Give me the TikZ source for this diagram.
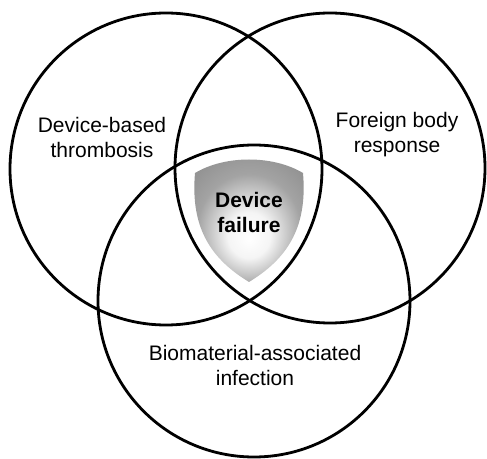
\documentclass[tikz,border=0pt]{standalone}
\usepackage{fontspec}
\setmainfont{Liberation Sans}
\pgfdeclareradialshading{shieldshade}{\pgfpoint{0bp}{-8bp}}{%
  color(0bp)=(white); color(9bp)=(white!96!black); color(22bp)=(black!36); color(30bp)=(black!42); color(50bp)=(black!42)}
\tikzset{
  ring/.style={draw=black, line width=2.8pt},
  lbl/.style={align=center, inner sep=0pt, font=\fontsize{21}{25}\selectfont},
  boldlbl/.style={lbl, font=\fontsize{21}{25}\selectfont\bfseries}
}
\begin{document}
\begin{tikzpicture}[x=1pt,y=1pt]
\useasboundingbox (0,0) rectangle (487,458);
% shield
\path[shading=shieldshade]
  (195,285) .. controls (225,303) and (273,303) .. (303,285)
  .. controls (308,228) and (285,198) .. (249,176)
  .. controls (213,198) and (190,228) .. (195,285) -- cycle;
% circles
\node[ring, circle, minimum size=312pt, inner sep=0pt] (thromb) at (166,289) {};
\node[ring, circle, minimum size=310pt, inner sep=0pt] (fbr) at (330,290) {};
\node[ring, circle, minimum size=312pt, inner sep=0pt] (bai) at (254,157) {};
% labels
\node[lbl] (tl) at (102,320.5) {Device-based\\thrombosis};
\node[lbl] (fl) at (397,323) {Foreign body\\response};
\node[boldlbl] (dl) at (249,245.5) {Device\\failure};
\node[lbl] (bl) at (255,93) {Biomaterial-associated\\infection};
\end{tikzpicture}
\end{document}
